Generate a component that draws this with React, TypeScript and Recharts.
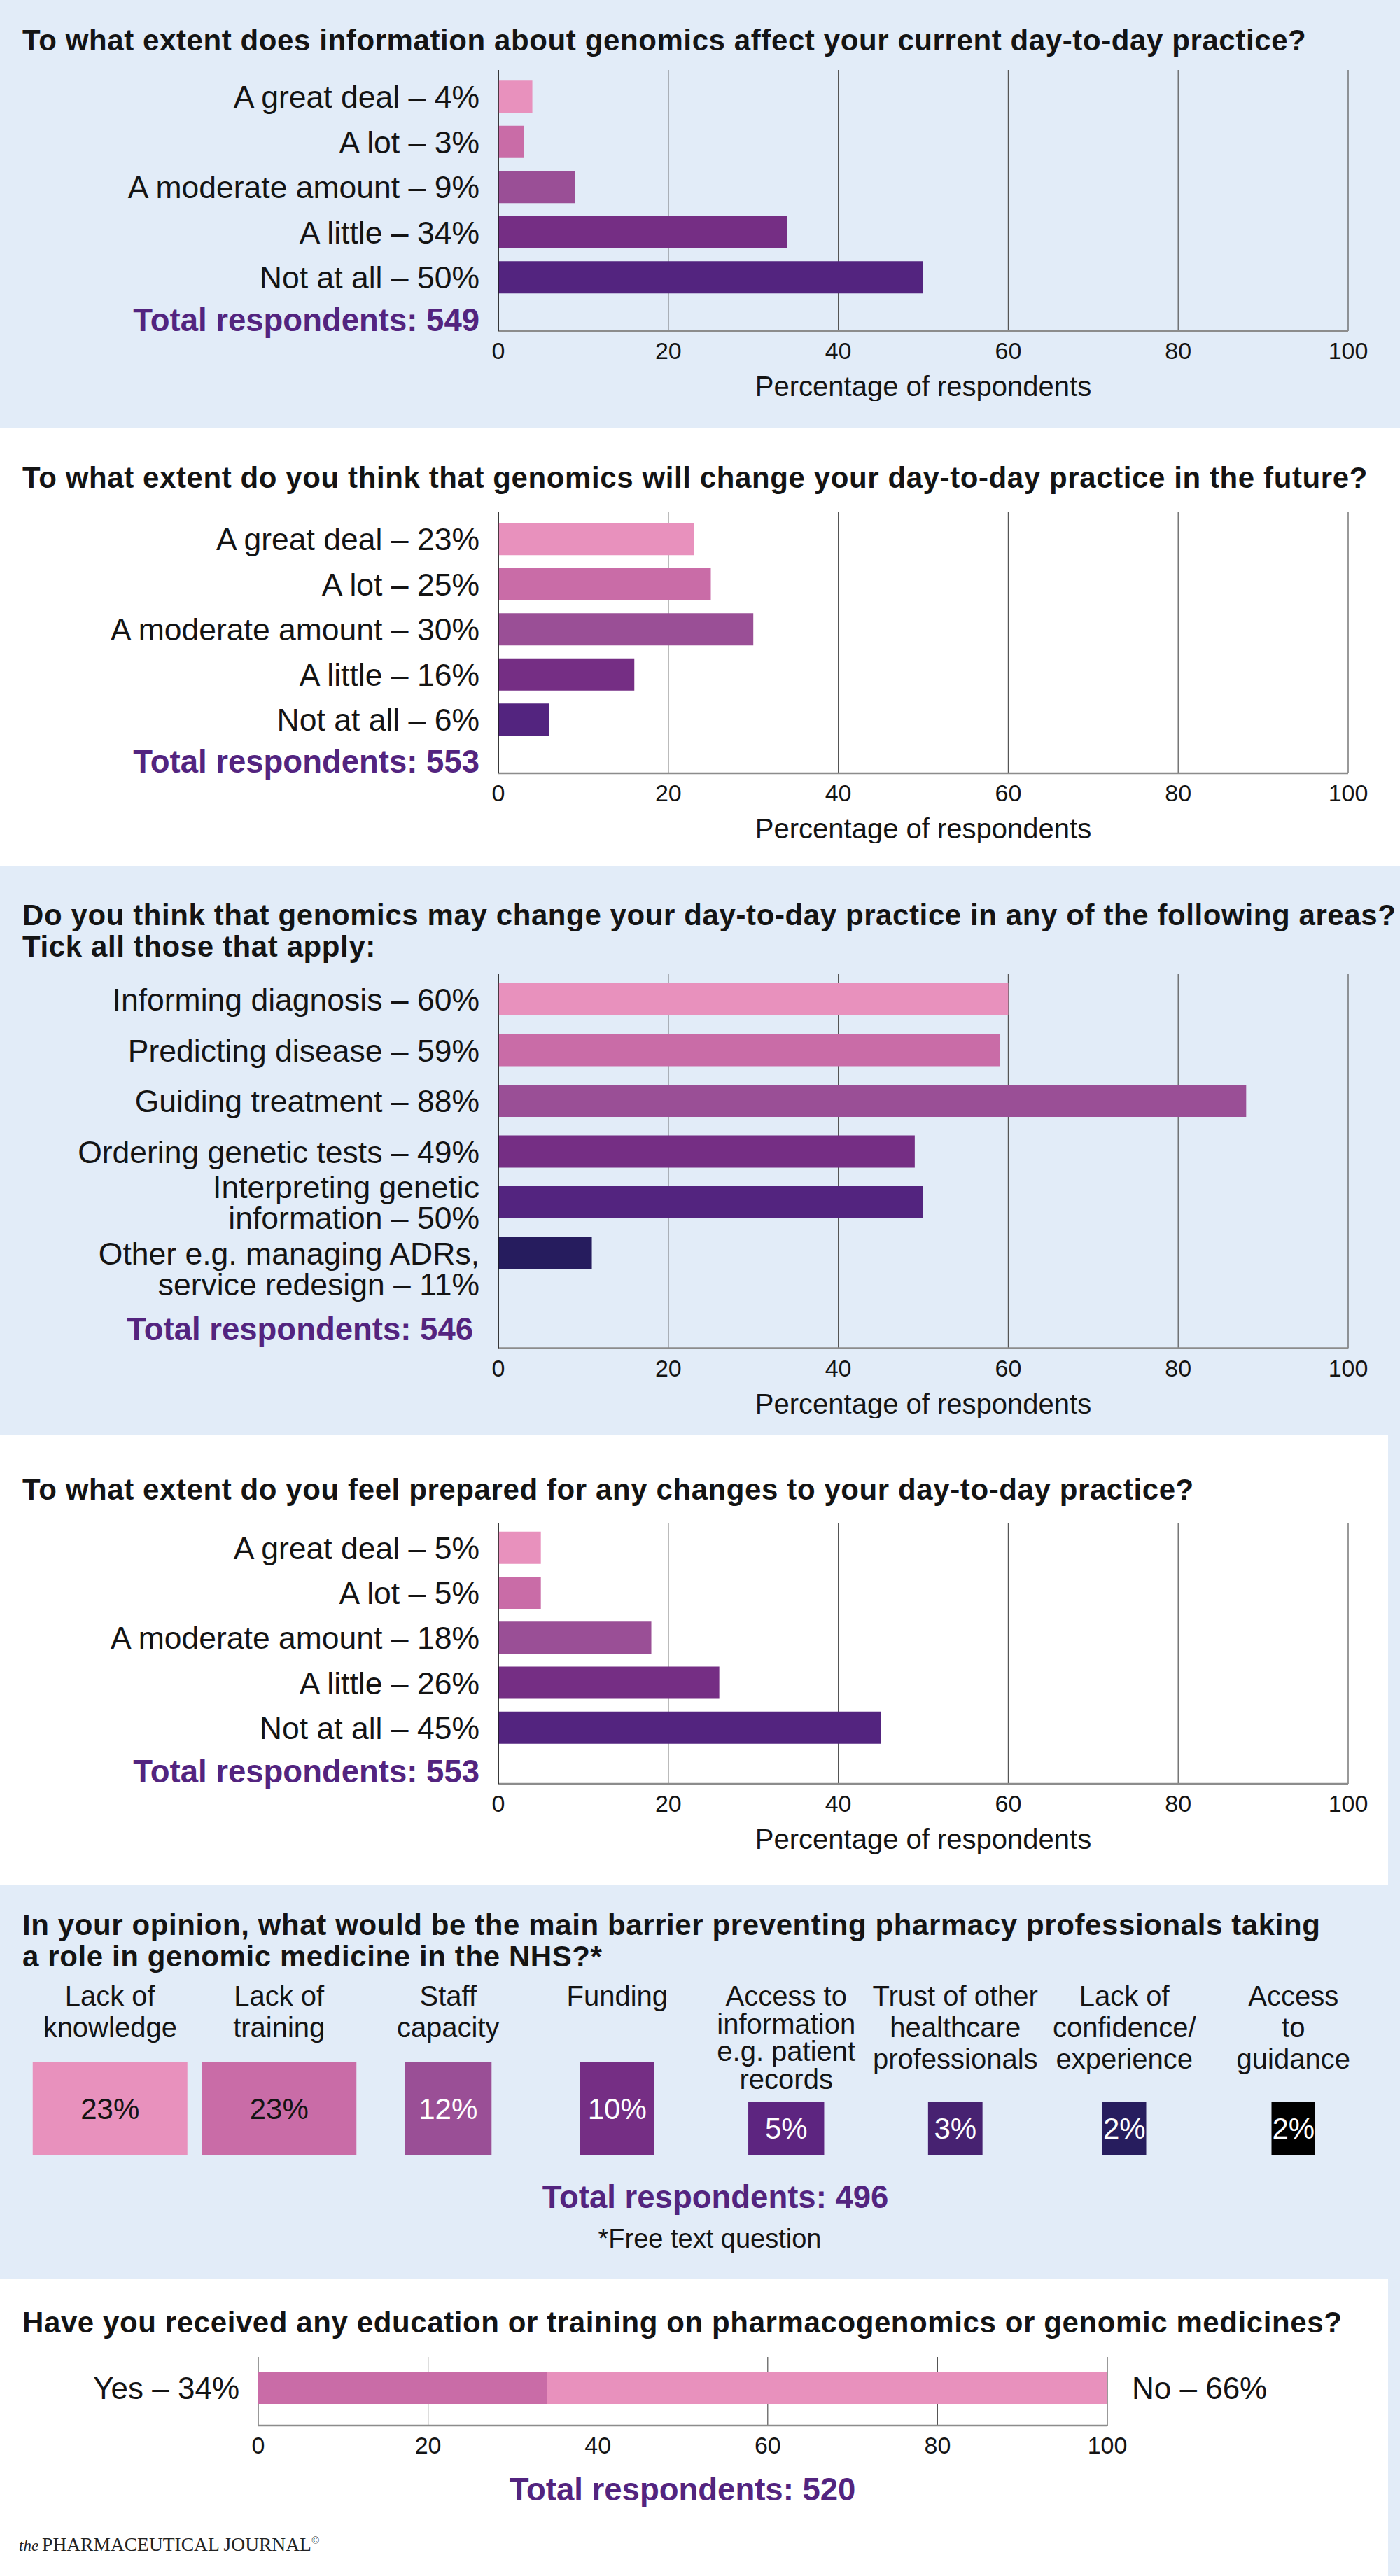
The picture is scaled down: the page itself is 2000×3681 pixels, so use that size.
import React from "react";
import {
  BarChart,
  Bar,
  XAxis,
  YAxis,
  ZAxis,
  CartesianGrid,
  Cell,
  LabelList,
  ScatterChart,
  Scatter,
} from "recharts";

const FONT = '"Liberation Sans", Arial, sans-serif';
const INK = "#141414";
const PURPLE = "#53247F";
const PANEL = "#E2ECF8";
const SHADES = ["#E891BD", "#C96CA7", "#9A4F96", "#752E84", "#53247F", "#261C5E"];
const BOX_SHADES = ["#E891BD", "#C96CA7", "#9A4F96", "#752E84", "#5D2580", "#472271", "#271D5E", "#000000"];
const BOX_INK = [INK, INK, "#fff", "#fff", "#fff", "#fff", "#fff", "#fff"];

// Q1 + Q2 + Q4 share the same answer scale
const extentLabels = ["A great deal", "A lot", "A moderate amount", "A little", "Not at all"];
const currentValues = [4, 3, 9, 34, 50];
const currentTotal = 549;
const futureValues = [23, 25, 30, 16, 6];
const futureTotal = 553;
const preparedValues = [5, 5, 18, 26, 45];
const preparedTotal = 553;

// Q3
const areaLabels = [
  "Informing diagnosis",
  "Predicting disease",
  "Guiding treatment",
  "Ordering genetic tests",
  "Interpreting genetic\ninformation",
  "Other e.g. managing ADRs,\nservice redesign",
];
const areaValues = [60, 59, 88, 49, 50, 11];
const areaTotal = 546;

// Q5 (free text)
const barrierLabels = [
  "Lack of\nknowledge",
  "Lack of\ntraining",
  "Staff\ncapacity",
  "Funding",
  "Access to\ninformation\ne.g. patient\nrecords",
  "Trust of other\nhealthcare\nprofessionals",
  "Lack of\nconfidence/\nexperience",
  "Access\nto\nguidance",
];
const barrierValues = [23, 23, 12, 10, 5, 3, 2, 2];
const barrierTotal = 496;

// Q6
const trainingYes = 34;
const trainingNo = 66;
const trainingTotal = 520;

const percentTicks = [0, 20, 40, 60, 80, 100];

function CategoryTick(props: any) {
  const { x, y, payload, hang } = props;
  const lines = String(payload.value).split("\n");
  const fs = 44.5;
  const lh = 44;
  const first = hang ? y : y - ((lines.length - 1) * lh) / 2;
  return (
    <text x={x} y={first + fs * 0.358} textAnchor="end" fill={INK} fontSize={fs} fontFamily={FONT}>
      {lines.map((ln, i) => (
        <tspan key={i} x={x} dy={i === 0 ? 0 : lh}>
          {ln}
        </tspan>
      ))}
    </text>
  );
}

type SurveyProps = {
  top: number;
  plotHeight: number;
  padTop: number;
  padBottom: number;
  labels: string[];
  values: number[];
  hangLast?: boolean;
};

function SurveyBars({ top, plotHeight, padTop, padBottom, labels, values, hangLast }: SurveyProps) {
  const data = labels.map((l, i) => ({ label: `${l} – ${values[i]}%`, value: values[i] }));
  const lastLabel = data[data.length - 1].label;
  const mTop = 10;
  const axisH = 100;
  return (
    <div style={{ position: "absolute", left: 0, top: top - mTop }}>
      <BarChart
        width={2000}
        height={mTop + plotHeight + axisH}
        data={data}
        layout="vertical"
        margin={{ top: mTop, right: 74, bottom: 0, left: 0 }}
      >
        <CartesianGrid horizontal={false} stroke="#555" strokeWidth={1.2} />
        <XAxis
          type="number"
          domain={[0, 100]}
          ticks={percentTicks}
          interval={0}
          height={axisH}
          tickLine={false}
          tickSize={8}
          tickMargin={8}
          axisLine={{ stroke: "#8c8c8c", strokeWidth: 2.5 }}
          tick={{ fill: INK, fontSize: 34, fontFamily: FONT }}
          label={{
            value: "Percentage of respondents",
            position: "insideBottom",
            offset: 7,
            fill: INK,
            fontSize: 40,
            fontFamily: FONT,
          }}
        />
        <YAxis
          type="category"
          dataKey="label"
          width={712}
          interval={0}
          padding={{ top: padTop, bottom: padBottom }}
          tickLine={false}
          tickSize={0}
          tickMargin={27}
          axisLine={{ stroke: "#1a1a1a", strokeWidth: 1.5 }}
          tick={(p: any) => <CategoryTick {...p} hang={hangLast && p.payload.value === lastLabel} />}
        />
        <Bar dataKey="value" barSize={46} isAnimationActive={false}>
          {data.map((d, i) => (
            <Cell key={d.label} fill={SHADES[i]} />
          ))}
        </Bar>
      </BarChart>
    </div>
  );
}

function Title({ top, lines }: { top: number; lines: string[] }) {
  return (
    <div
      style={{
        position: "absolute",
        left: 32,
        top,
        fontSize: 42,
        letterSpacing: 0.6,
        lineHeight: "45px",
        fontWeight: 700,
        color: INK,
        whiteSpace: "pre",
      }}
    >
      {lines.join("\n")}
    </div>
  );
}

function Total({ n, center, right, cx }: { n: number; center: number; right?: number; cx?: number }) {
  const base: React.CSSProperties = {
    position: "absolute",
    top: center - 25,
    lineHeight: "50px",
    fontSize: 45.5,
    fontWeight: 700,
    color: PURPLE,
    whiteSpace: "nowrap",
  };
  if (cx !== undefined) {
    return (
      <div style={{ ...base, left: cx - 400, width: 800, textAlign: "center" }}>Total respondents: {n}</div>
    );
  }
  return <div style={{ ...base, right: 2000 - (right ?? 685), textAlign: "right" }}>Total respondents: {n}</div>;
}

function BarrierTick(props: any) {
  const { x, y, payload } = props;
  const lines = String(payload.value).split("\n");
  const fs = 40;
  const lh = lines.length > 3 ? 39.5 : 45;
  const first = y - 88;
  return (
    <text x={x} y={first + fs * 0.358} textAnchor="middle" fill={INK} fontSize={fs} fontFamily={FONT}>
      {lines.map((ln, i) => (
        <tspan key={i} x={x} dy={i === 0 ? 0 : lh}>
          {ln}
        </tspan>
      ))}
    </text>
  );
}

function BoxShape(props: any) {
  const { cx, cy, size, fill, payload } = props;
  const idx = barrierLabels.indexOf(payload.name);
  const h = payload.value >= 10 ? 132 : 76;
  const w = size / h;
  return (
    <g>
      <rect x={cx - w / 2} y={cy - h} width={w} height={h} fill={fill} />
      <text
        x={cx}
        y={cy - h / 2 + 42 * 0.358}
        textAnchor="middle"
        fill={BOX_INK[idx]}
        fontSize={42}
        fontFamily={FONT}
      >
        {payload.value}%
      </text>
    </g>
  );
}

function BarrierBoxes() {
  const data = barrierLabels.map((l, i) => ({ name: l, value: barrierValues[i], level: 0 }));
  return (
    <div style={{ position: "absolute", left: 0, top: 2800 }}>
      <ScatterChart width={2000} height={290} margin={{ top: 0, right: 31.5, bottom: 11, left: 36.5 }}>
        <XAxis
          type="category"
          dataKey="name"
          orientation="top"
          height={140}
          interval={0}
          axisLine={false}
          tickLine={false}
          tickSize={0}
          tickMargin={0}
          tick={<BarrierTick />}
        />
        <YAxis type="number" dataKey="level" domain={[0, 1]} hide width={0} />
        <ZAxis type="number" dataKey="value" domain={[2, 23]} range={[4750, 29170]} />
        <Scatter data={data} shape={<BoxShape />} isAnimationActive={false}>
          {data.map((d, i) => (
            <Cell key={d.name} fill={BOX_SHADES[i]} />
          ))}
        </Scatter>
      </ScatterChart>
    </div>
  );
}

function TrainingBar() {
  const data = [{ name: "training", yes: trainingYes, no: trainingNo }];
  const mTop = 10;
  return (
    <div style={{ position: "absolute", left: 0, top: 3368 - mTop }}>
      <BarChart
        width={2000}
        height={mTop + 98 + 60}
        data={data}
        layout="vertical"
        margin={{ top: mTop, right: 418, bottom: 0, left: 369 }}
      >
        <CartesianGrid horizontal={false} verticalValues={[0, 20, 60, 80, 100]} stroke="#555" strokeWidth={1.2} />
        <XAxis
          type="number"
          domain={[0, 100]}
          ticks={percentTicks}
          interval={0}
          height={60}
          tickLine={false}
          tickSize={8}
          tickMargin={8}
          axisLine={{ stroke: "#8c8c8c", strokeWidth: 2.5 }}
          tick={{ fill: INK, fontSize: 34, fontFamily: FONT }}
        />
        <YAxis type="category" dataKey="name" hide width={0} padding={{ top: 0, bottom: 11 }} />
        <Bar dataKey="yes" stackId="a" fill="#C96CA7" barSize={46} isAnimationActive={false}>
          <LabelList
            dataKey="yes"
            position="left"
            offset={27}
            formatter={(v: any) => `Yes – ${v}%`}
            fill={INK}
            fontSize={44}
            fontFamily={FONT}
          />
        </Bar>
        <Bar dataKey="no" stackId="a" fill="#E891BD" barSize={46} isAnimationActive={false}>
          <LabelList
            dataKey="no"
            position="right"
            offset={35}
            formatter={(v: any) => `No – ${v}%`}
            fill={INK}
            fontSize={44}
            fontFamily={FONT}
          />
        </Bar>
      </BarChart>
    </div>
  );
}

export default function App() {
  return (
    <div
      style={{
        position: "absolute",
        left: 0,
        top: 0,
        width: 2000,
        height: 3681,
        overflow: "hidden",
        background: "#fff",
        fontFamily: FONT,
        color: INK,
      }}
    >
      <div style={{ position: "absolute", left: 0, top: 0, width: 2000, height: 612, background: PANEL }} />
      <div style={{ position: "absolute", left: 0, top: 1237, width: 2000, height: 813, background: PANEL }} />
      <div style={{ position: "absolute", left: 0, top: 2693, width: 2000, height: 563, background: PANEL }} />
      <div style={{ position: "absolute", left: 1983, top: 2050, width: 17, height: 643, background: PANEL }} />
      <div style={{ position: "absolute", left: 1983, top: 3256, width: 17, height: 425, background: PANEL }} />

      <Title top={57 - 22.5} lines={["To what extent does information about genomics affect your current day-to-day practice?"]} />
      <SurveyBars top={100} plotHeight={373} padTop={6.25} padBottom={44.25} labels={extentLabels} values={currentValues} />
      <Total n={currentTotal} center={458} />

      <Title top={682 - 22.5} lines={["To what extent do you think that genomics will change your day-to-day practice in the future?"]} />
      <SurveyBars top={732} plotHeight={373} padTop={6.25} padBottom={44.25} labels={extentLabels} values={futureValues} />
      <Total n={futureTotal} center={1089} />

      <Title
        top={1307.5 - 22.5}
        lines={[
          "Do you think that genomics may change your day-to-day practice in any of the following areas?",
          "Tick all those that apply:",
        ]}
      />
      <SurveyBars
        top={1391.5}
        plotHeight={534.5}
        padTop={0}
        padBottom={99.5}
        labels={areaLabels}
        values={areaValues}
        hangLast
      />
      <Total n={areaTotal} center={1900} right={676} />

      <Title top={2128.5 - 22.5} lines={["To what extent do you feel prepared for any changes to your day-to-day practice?"]} />
      <SurveyBars top={2177} plotHeight={372} padTop={2.75} padBottom={48} labels={extentLabels} values={preparedValues} />
      <Total n={preparedTotal} center={2531.6} />

      <Title
        top={2750 - 22.5}
        lines={[
          "In your opinion, what would be the main barrier preventing pharmacy professionals taking",
          "a role in genomic medicine in the NHS?*",
        ]}
      />
      <BarrierBoxes />
      <Total n={barrierTotal} cx={1022} center={3140} />
      <div
        style={{
          position: "absolute",
          left: 614,
          width: 800,
          top: 3199 - 22,
          lineHeight: "44px",
          fontSize: 38,
          textAlign: "center",
        }}
      >
        *Free text question
      </div>

      <Title top={3318 - 22.5} lines={["Have you received any education or training on pharmacogenomics or genomic medicines?"]} />
      <TrainingBar />
      <Total n={trainingTotal} cx={975} center={3558} />

      <div
        style={{
          position: "absolute",
          left: 27,
          top: 3630 - 19,
          lineHeight: "38px",
          fontFamily: '"Liberation Serif", serif',
          fontSize: 27.5,
          color: "#222",
          whiteSpace: "nowrap",
        }}
      >
        <span style={{ fontStyle: "italic", fontSize: 23, marginRight: 5 }}>the</span>
        PHARMACEUTICAL JOURNAL
        <sup style={{ fontSize: 15 }}>©</sup>
      </div>
    </div>
  );
}
